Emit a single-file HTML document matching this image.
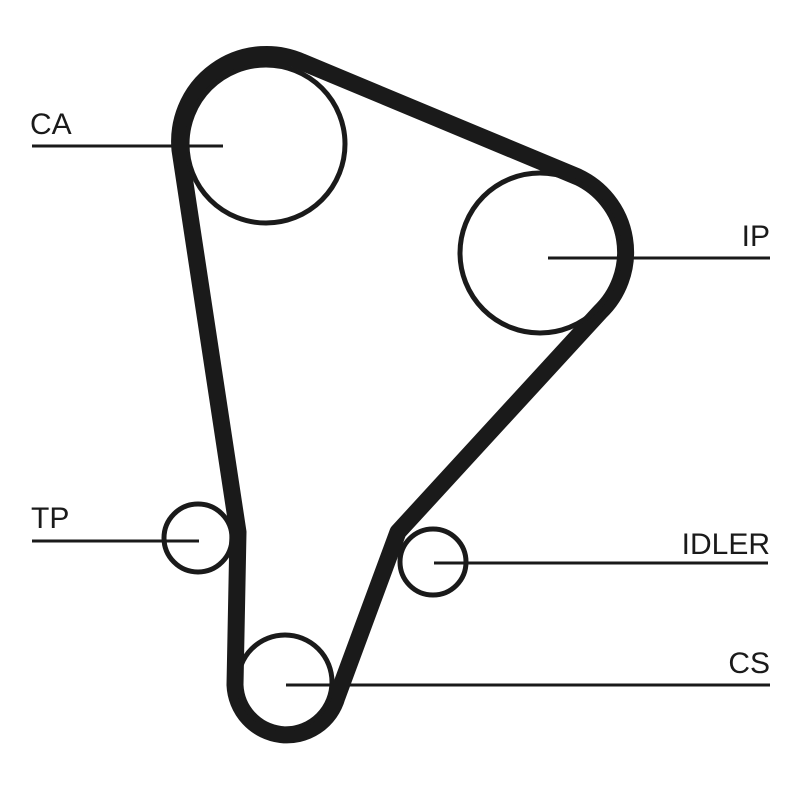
<!DOCTYPE html>
<html><head><style>body{margin:0;background:#fff}svg{display:block}</style></head>
<body>
<svg width="800" height="800" viewBox="0 0 800 800" xmlns="http://www.w3.org/2000/svg">
<g fill="none" stroke="#1a1a1a">
<path d="M180,150 A87 87 0 0 1 302,62 L578,177 A83 83 0 0 1 600,312 L398,532 L337,697 A52 52 0 0 1 235,685 L238,532 Z" stroke-width="17" stroke-linejoin="round"/>
<circle cx="266" cy="144" r="79" stroke-width="5"/>
<circle cx="540" cy="253" r="80" stroke-width="5"/>
<circle cx="198" cy="538" r="34" stroke-width="5"/>
<circle cx="433" cy="562" r="33" stroke-width="5"/>
<circle cx="285" cy="682" r="47" stroke-width="5"/>
<g stroke-width="3">
<line x1="32" y1="146" x2="223" y2="146"/>
<line x1="548" y1="258" x2="770" y2="258"/>
<line x1="32" y1="541" x2="199" y2="541"/>
<line x1="434" y1="563" x2="768" y2="563"/>
<line x1="286" y1="685" x2="770" y2="685"/>
</g>
</g>
<g font-family="Liberation Sans, sans-serif" font-size="30" fill="#1a1a1a">
<text x="30" y="134">CA</text>
<text x="770" y="246" text-anchor="end">IP</text>
<text x="31" y="528">TP</text>
<text x="770" y="554" text-anchor="end">IDLER</text>
<text x="770" y="673" text-anchor="end">CS</text>
</g>
</svg>
</body></html>
